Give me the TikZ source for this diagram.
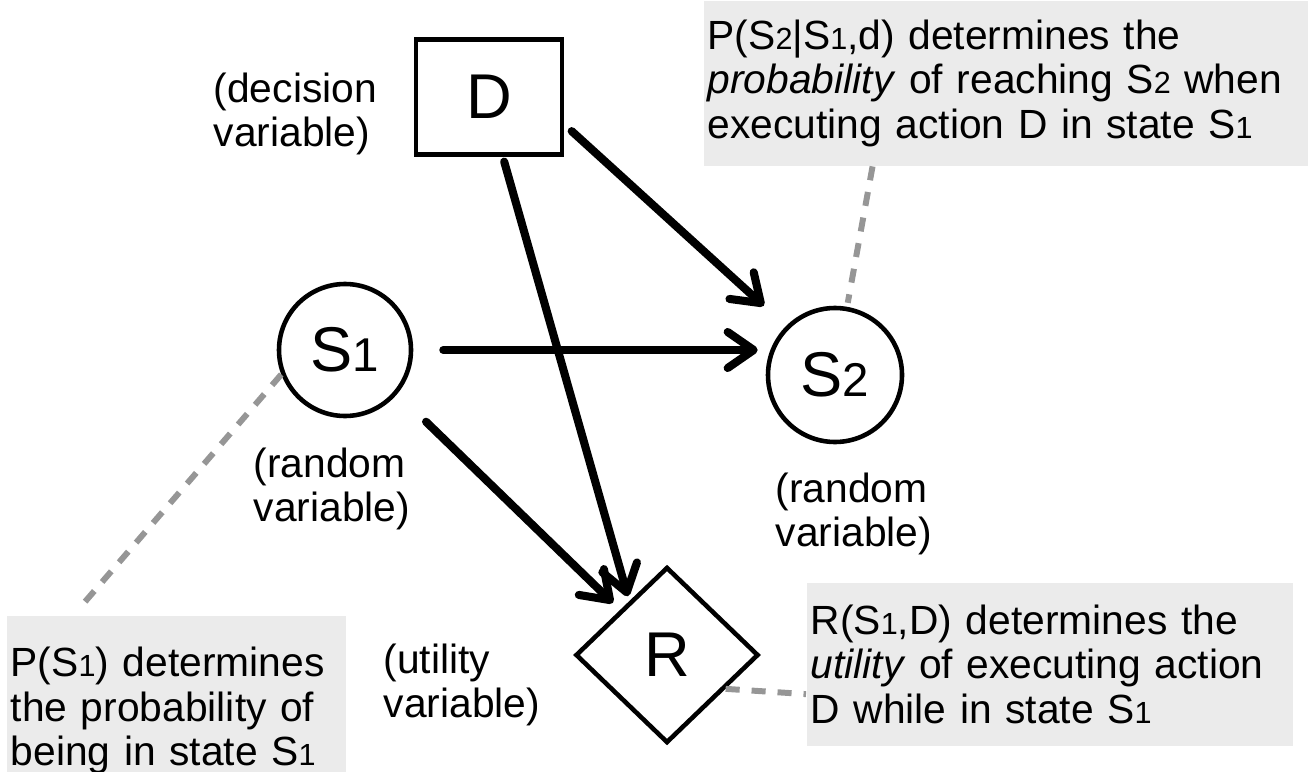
\documentclass[tikz,border=0pt]{standalone}
\usepackage{fontspec}
\setmainfont{Liberation Sans}
\usetikzlibrary{arrows.meta,positioning,shapes.geometric}
\definecolor{notegray}{RGB}{235,235,235}
\definecolor{linkgray}{RGB}{150,150,150}
\newcommand{\idx}[1]{\scalebox{0.75}{#1}}

\begin{document}
\begin{tikzpicture}[
    every node/.style={font=\fontsize{11.6}{12.6}\selectfont},
    var/.style={draw,line width=1.3pt,inner sep=0pt,font=\fontsize{18}{20}\selectfont},
    dep/.style={line width=2.3pt,line cap=round,-{Straight Barb[length=0.26cm,width=0.36cm,round]}},
    lbl/.style={align=left,anchor=north west,inner sep=0pt},
    note/.style={fill=notegray,align=left,anchor=north west,inner xsep=0.04cm,inner ysep=0pt},
    link/.style={draw=linkgray,line width=1.7pt,dash pattern=on 4pt off 3.4pt}]
      \useasboundingbox (0,0) rectangle (13.11,-7.71);
      \begin{scope}
        \node[var,minimum width=1.46cm,minimum height=1.15cm] (D) at (4.89,-0.97) {D};
        \node[var,circle,minimum size=1.32cm] (S1) at (3.45,-3.50) {S\idx{1}};
        \node[var,circle,minimum size=1.34cm] (S2) at (8.35,-3.75) {S\idx{2}};
        \node[var,diamond,minimum width=1.83cm,minimum height=1.76cm] (R) at (6.67,-6.55) {R};
      \end{scope}
      \begin{scope}
        \node[lbl] (decL) at (2.13,-0.72) {(decision\\variable)};
        \node[lbl] (randL1) at (2.53,-4.47) {(random\\variable)};
        \node[lbl] (randL2) at (7.75,-4.72) {(random\\variable)};
        \node[lbl] (utilL) at (3.83,-6.43) {(utility\\variable)};
      \end{scope}
      \begin{scope}
        \node[note,text width=5.96cm,minimum height=1.65cm] (pS2) at (7.03,0)
          {P(S\idx{2}|S\idx{1},d) determines the\\\textit{probability} of reaching S\idx{2} when\\executing action D in state S\idx{1}};
        \node[note,text width=3.31cm,minimum height=1.9cm] (pS1) at (0.06,-6.15)
          {P(S\idx{1}) determines\\the probability of\\being in state S\idx{1}};
        \node[note,text width=4.78cm,minimum height=1.63cm] (pR) at (8.06,-5.82)
          {R(S\idx{1},D) determines the\\\textit{utility} of executing action\\D while in state S\idx{1}};
      \end{scope}
      \begin{scope}
        \draw[dep,shorten <=0.1cm,shorten >=0.3cm] (D.-20) -- (S2.135); % decision to next state
        \draw[dep,shorten <=0.3cm,shorten >=0.08cm] (S1.east) -- (S2.west |- S1.east); % state to next state
        \draw[dep,shorten <=0.4cm,shorten >=0.1cm] (S1.-40) -- (R.north west); % state to utility
        \draw[dep,shorten <=0.05cm,shorten >=0.05cm] (D.-77) -- (R.125); % decision to utility
      \end{scope}
      \begin{scope}
        \draw[link,shorten >=0.06cm] (S1.201) -- (pS1.137);
        \draw[link,shorten >=0.04cm] (pS2.212) -- (S2.80);
        \draw[link] (R.-30) -- (pR.187);
      \end{scope}
    \end{tikzpicture}
\end{document}
